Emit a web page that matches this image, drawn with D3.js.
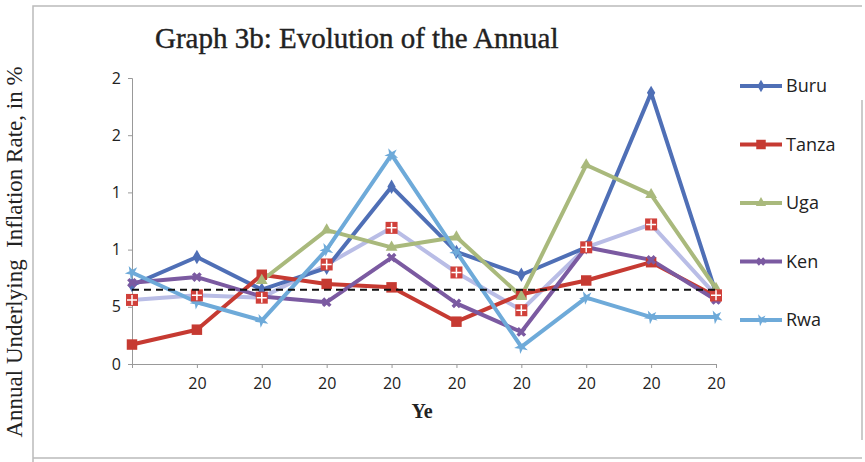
<!DOCTYPE html>
<html>
<head>
<meta charset="utf-8">
<script src="https://cdn.jsdelivr.net/npm/d3@7"></script>
<style>
  body { margin: 0; background: #fff; }
  svg { display: block; }
  .tick-label { font-family: "Open Sans", "Noto Sans", sans-serif; font-size: 16px; fill: #222; }
  .serif { font-family: "Liberation Serif", "Times New Roman", serif; fill: #222; }
</style>
</head>
<body>
<svg id="chart" width="865" height="462"></svg>
<script>
// data (percent)
const years = ["2002", "2003", "2004", "2005", "2006", "2007", "2008", "2009", "2010", "2011"];
const xLabels = ["", "20", "20", "20", "20", "20", "20", "20", "20", "20"];
const yTicks = [0, 5, 10, 15, 20, 25];
const yTickLabels = ["0", "5", "1", "1", "2", "2"];

const buru  = [6.9, 9.35, 6.5, 8.4, 15.5, 9.8, 7.8, 10.2, 23.7, 6.2];
const tanza = [1.7, 3.0, 7.8, 7.0, 6.7, 3.7, 6.1, 7.3, 8.9, 5.9];
const uga   = [null, null, 7.3, 11.7, 10.2, 11.1, 5.9, 17.4, 14.8, 6.6];
const ken   = [7.1, 7.6, 5.9, 5.4, 9.3, 5.3, 2.8, 10.2, 9.1, 5.6];
const rwa   = [8.0, 5.4, 3.8, 10.0, 18.3, 9.8, 1.5, 5.8, 4.1, 4.1];
const avg   = [5.6, 6.0, 5.8, 8.7, 11.9, 8.0, 4.7, 10.2, 12.2, 6.0];
const target = 6.5;

const seriesNames = ["Buru", "Tanza", "Uga", "Ken", "Rwa"];
const seriesValues = [buru, tanza, uga, ken, rwa];
const seriesColors = ["#4f6fb6", "#c63a32", "#a9b97c", "#7b5aa1", "#6eaad9"];
const seriesSymbols = [d3.symbolDiamond, d3.symbolSquare, d3.symbolTriangle, d3.symbolCross, d3.symbolStar];

const svg = d3.select("#chart");

// scanned page frame
svg.append("path")
    .attr("d", "M33,462 L33,6 L862,6 M33,458 L862,458 M862,100 L862,440")
    .attr("fill", "none")
    .attr("stroke", "#bbb")
    .attr("stroke-width", 1.5);

const x = d3.scalePoint().domain(years).range([132, 716]);
const y = d3.scaleLinear().domain([0, 25]).range([364, 78]);

// axes
const yAxis = svg.append("g")
    .attr("transform", "translate(132,0)")
    .call(d3.axisLeft(y).tickValues(yTicks).tickSize(4).tickFormat((d, i) => yTickLabels[i]));
yAxis.select(".domain").attr("stroke", "#999");
yAxis.selectAll(".tick line").attr("stroke", "#999");
yAxis.selectAll(".tick text").attr("class", "tick-label").attr("dx", "-4");

const xAxis = svg.append("g")
    .attr("transform", "translate(0,364)")
    .call(d3.axisBottom(x).tickSize(4).tickSizeOuter(0).tickFormat((d, i) => xLabels[i]));
xAxis.select(".domain").attr("stroke", "#999");
xAxis.selectAll(".tick line").attr("stroke", "#999");
xAxis.selectAll(".tick text").attr("class", "tick-label").attr("dy", "1.1em");

const line = d3.line()
    .defined(d => d != null)
    .x((d, i) => x(years[i]))
    .y(d => y(d));

// average line (light lavender, no legend entry)
svg.append("path")
    .attr("d", line(avg))
    .attr("fill", "none")
    .attr("stroke", "#b9bde6")
    .attr("stroke-width", 4)
    .attr("stroke-linejoin", "round");

seriesValues.forEach((vals, s) => {
    svg.append("path")
        .attr("d", line(vals))
        .attr("fill", "none")
        .attr("stroke", seriesColors[s])
        .attr("stroke-width", 4)
        .attr("stroke-linejoin", "round");
});

seriesValues.forEach((vals, s) => {
    svg.append("g").selectAll("path")
        .data(vals.map((v, i) => ({ v, i })).filter(d => d.v != null))
        .enter().append("path")
        .attr("transform", d => `translate(${x(years[d.i])},${y(d.v)})` + (s === 3 || s === 4 ? " rotate(45)" : ""))
        .attr("d", d3.symbol().type(seriesSymbols[s]).size(s === 1 ? 110 : 60))
        .attr("fill", seriesColors[s]);
});

// average markers: red square with white cross
const avgMarks = svg.append("g").selectAll("g")
    .data(avg)
    .enter().append("g")
    .attr("transform", (d, i) => `translate(${x(years[i])},${y(d)})`);
avgMarks.append("rect")
    .attr("x", -6).attr("y", -6).attr("width", 12).attr("height", 12)
    .attr("fill", "#d0403a");
avgMarks.append("path")
    .attr("d", "M0,-5 L0,5 M-5,0 L5,0")
    .attr("stroke", "#fff")
    .attr("stroke-width", 1.5);

// dashed reference line
svg.append("path")
    .attr("d", line(years.map(() => target)))
    .attr("fill", "none")
    .attr("stroke", "#111")
    .attr("stroke-width", 2)
    .attr("stroke-dasharray", "7,5");

// legend
const legend = svg.append("g");
seriesNames.forEach((name, s) => {
    const ly = 86 + s * 58.5;
    legend.append("line")
        .attr("x1", 740).attr("x2", 782).attr("y1", ly).attr("y2", ly)
        .attr("stroke", seriesColors[s]).attr("stroke-width", 4);
    legend.append("path")
        .attr("transform", `translate(761,${ly})` + (s === 3 || s === 4 ? " rotate(45)" : ""))
        .attr("d", d3.symbol().type(seriesSymbols[s]).size(s === 1 ? 90 : 45))
        .attr("fill", seriesColors[s]);
    legend.append("text")
        .attr("class", "tick-label")
        .attr("x", 786).attr("y", ly + 6)
        .style("font-size", "18px")
        .text(name);
});

// titles
svg.append("text")
    .attr("class", "serif")
    .attr("x", 155).attr("y", 48)
    .style("font-size", "29px")
    .style("stroke", "#222")
    .style("stroke-width", 0.4)
    .text("Graph 3b: Evolution of the Annual");

svg.append("text")
    .attr("class", "serif")
    .attr("x", 422).attr("y", 418)
    .attr("text-anchor", "middle")
    .style("font-size", "20px")
    .style("font-weight", "bold")
    .text("Ye");

svg.append("text")
    .attr("class", "serif")
    .attr("transform", "translate(22,252) rotate(-90)")
    .attr("text-anchor", "middle")
    .style("font-size", "23px")
    .text("Annual Underlying\u00a0\u00a0Inflation Rate, in %");
</script>
</body>
</html>
